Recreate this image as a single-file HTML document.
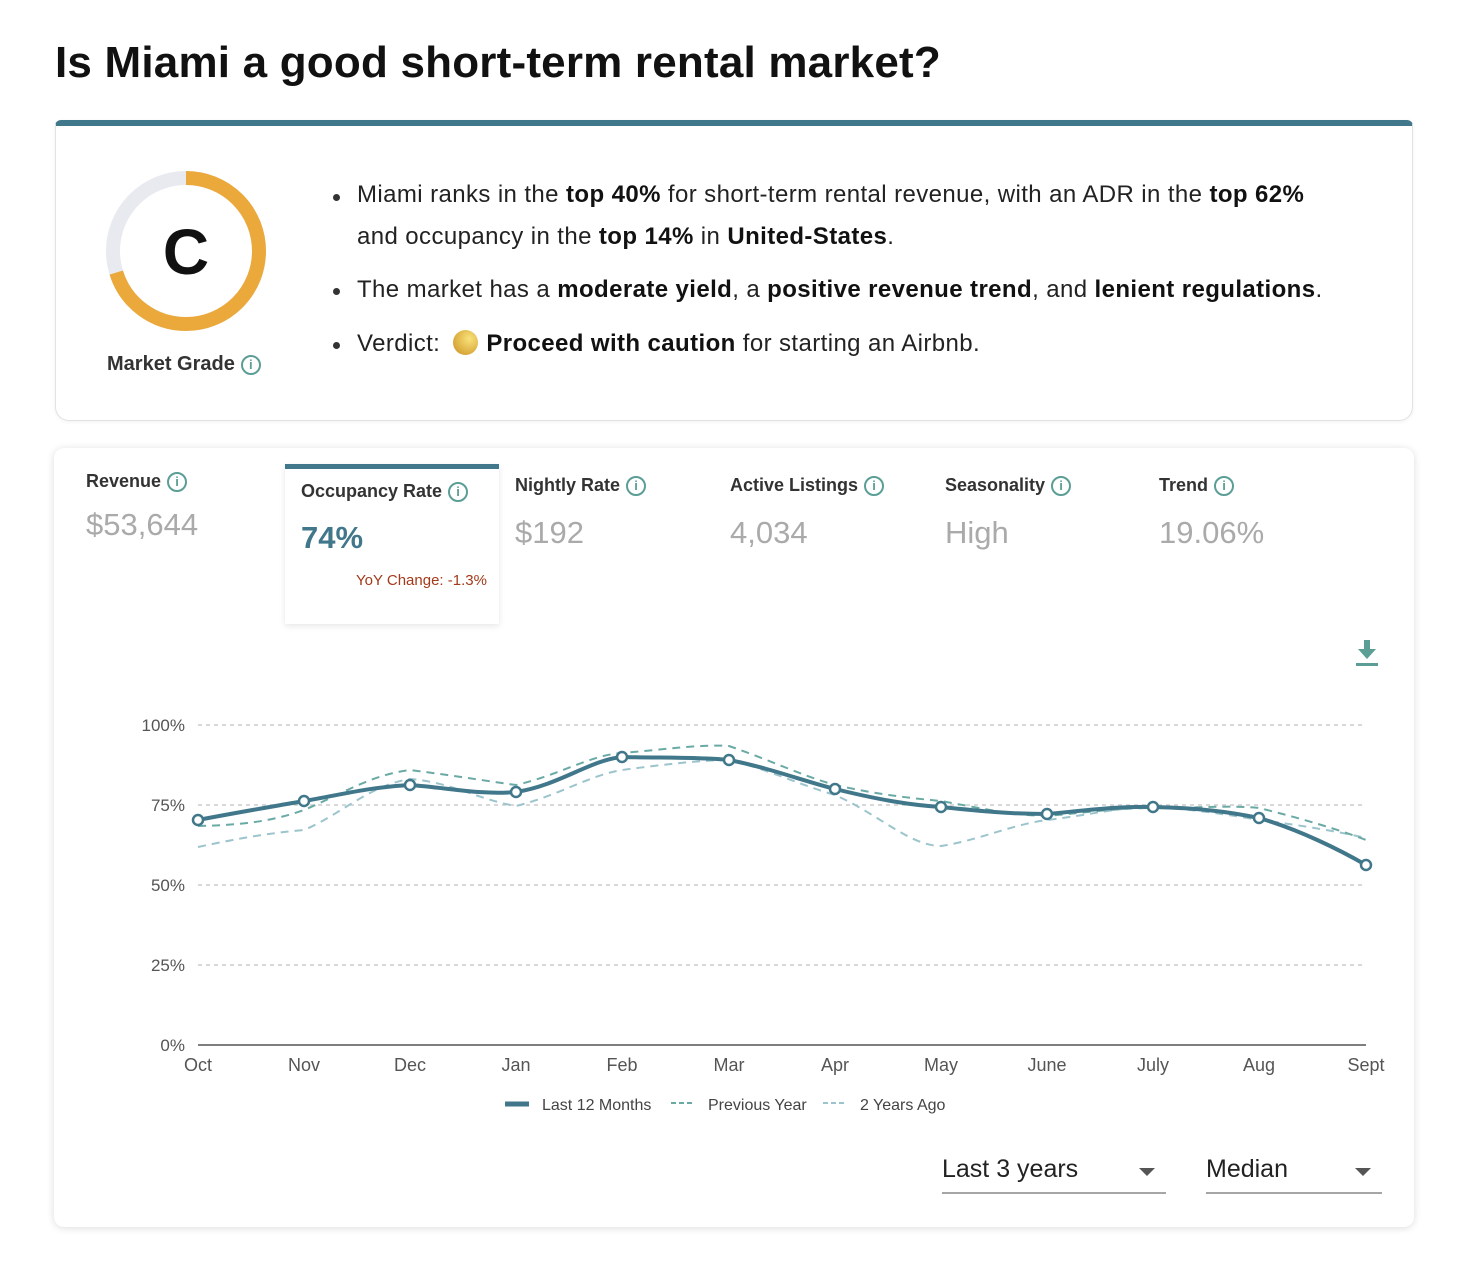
<!DOCTYPE html>
<html><head><meta charset="utf-8"><style>
*{margin:0;padding:0;box-sizing:border-box}
body{width:1460px;height:1282px;background:#fff;font-family:"Liberation Sans",Roboto,sans-serif;position:relative;overflow:hidden;color:#222}
.a{position:absolute;white-space:nowrap}
h1{position:absolute;left:55px;top:38px;font-size:44px;font-weight:700;color:#111;letter-spacing:0.2px}
.card1{position:absolute;left:55px;top:120px;width:1358px;height:301px;border:1px solid #e2e2e2;border-top:6px solid #41778a;border-radius:6px 6px 14px 14px;background:#fff;box-shadow:0 1px 4px rgba(0,0,0,.06)}
.card2{position:absolute;left:54px;top:448px;width:1360px;height:779px;border-radius:10px;background:#fff;box-shadow:0 1px 8px rgba(0,0,0,.14)}
.bl{font-size:24px;color:#222;letter-spacing:0.4px}
.bl b{font-weight:700;color:#111}
.dot{position:absolute;width:7px;height:7px;border-radius:50%;background:#333}
.lab{font-size:18px;font-weight:700;color:#333}
.val{font-size:31px;color:#aaa}
.info{display:inline-block;width:20px;height:20px;border:2px solid #5a9e96;border-radius:50%;color:#5a9e96;font-size:13px;text-align:center;line-height:16px;font-weight:700;vertical-align:middle;margin-left:6px}
</style></head><body>
<h1>Is Miami a good short-term rental market?</h1>
<div class="card1"></div>
<svg class="a" style="left:0;top:0" width="400" height="420">
<circle cx="186" cy="251" r="73" fill="none" stroke="#e8eaf0" stroke-width="14"/>
<circle cx="186" cy="251" r="73" fill="none" stroke="#eba93c" stroke-width="14" stroke-dasharray="322 500" transform="rotate(-90 186 251)"/>
<text x="186" y="274" text-anchor="middle" font-family="Liberation Sans" font-weight="700" font-size="64" fill="#111">C</text>
</svg>
<div class="a" style="left:107px;top:353px;font-size:20px;font-weight:700;color:#333">Market Grade<span class="info">i</span></div>
<div class="dot" style="left:333px;top:194px"></div>
<div class="dot" style="left:333px;top:288px"></div>
<div class="dot" style="left:333px;top:342px"></div>
<div class="a bl" style="left:357px;top:181px">Miami ranks in the <b>top 40%</b> for short-term rental revenue, with an ADR in the <b>top 62%</b></div>
<div class="a bl" style="left:357px;top:223px">and occupancy in the <b>top 14%</b> in <b>United-States</b>.</div>
<div class="a bl" style="left:357px;top:276px">The market has a <b>moderate yield</b>, a <b>positive revenue trend</b>, and <b>lenient regulations</b>.</div>
<div class="a bl" style="left:357px;top:330px">Verdict: <span style="display:inline-block;width:25px;height:25px;border-radius:50%;background:radial-gradient(circle at 65% 35%,#f8e27a,#d9a83a 70%,#c08a40);vertical-align:-4px;margin:0 8px 0 6px"></span><b>Proceed with caution</b> for starting an Airbnb.</div>

<div class="card2"></div>
<div class="a" style="left:285px;top:464px;width:214px;height:160px;background:#fff;border-top:5px solid #41778a;box-shadow:0 2px 6px rgba(0,0,0,.1)"></div>
<div class="a lab" style="left:86px;top:471px">Revenue<span class="info">i</span></div>
<div class="a val" style="left:86px;top:507px">$53,644</div>
<div class="a lab" style="left:301px;top:481px">Occupancy Rate<span class="info">i</span></div>
<div class="a" style="left:301px;top:520px;font-size:31px;font-weight:700;color:#41778a">74%</div>
<div class="a" style="left:356px;top:572px;font-size:15px;color:#a33a1a">YoY Change: -1.3%</div>
<div class="a lab" style="left:515px;top:475px">Nightly Rate<span class="info">i</span></div>
<div class="a val" style="left:515px;top:515px">$192</div>
<div class="a lab" style="left:730px;top:475px">Active Listings<span class="info">i</span></div>
<div class="a val" style="left:730px;top:515px">4,034</div>
<div class="a lab" style="left:945px;top:475px">Seasonality<span class="info">i</span></div>
<div class="a val" style="left:945px;top:515px">High</div>
<div class="a lab" style="left:1159px;top:475px">Trend<span class="info">i</span></div>
<div class="a val" style="left:1159px;top:515px">19.06%</div>

<svg class="a" style="left:0;top:0" width="1460" height="1282" font-family="Liberation Sans">
<g fill="#5a9e96"><rect x="1364" y="640" width="6" height="10"/><polygon points="1358,649 1376,649 1367,659"/><rect x="1356" y="663" width="22" height="3"/></g>
<g stroke="#ccc" stroke-width="1.5" stroke-dasharray="4 4">
<line x1="198" y1="725" x2="1366" y2="725"/><line x1="198" y1="805" x2="1366" y2="805"/><line x1="198" y1="885" x2="1366" y2="885"/><line x1="198" y1="965" x2="1366" y2="965"/></g>
<line x1="198" y1="1045" x2="1366" y2="1045" stroke="#555" stroke-width="1.5"/>
<g font-size="17" fill="#555" text-anchor="end"><text x="185" y="731">100%</text><text x="185" y="811">75%</text><text x="185" y="891">50%</text><text x="185" y="971">25%</text><text x="185" y="1051">0%</text></g>
<g font-size="18" fill="#555" text-anchor="middle"><text x="198" y="1071">Oct</text><text x="304" y="1071">Nov</text><text x="410" y="1071">Dec</text><text x="516" y="1071">Jan</text><text x="622" y="1071">Feb</text><text x="729" y="1071">Mar</text><text x="835" y="1071">Apr</text><text x="941" y="1071">May</text><text x="1047" y="1071">June</text><text x="1153" y="1071">July</text><text x="1259" y="1071">Aug</text><text x="1366" y="1071">Sept</text></g>
<path d="M198,847 C240,838 270,833 304,830 C340,815 370,785 410,779 C450,782 480,800 516,806 C560,795 590,775 622,770 C660,765 700,760 729,760 C770,770 800,785 835,795 C880,815 910,846 941,846 C980,840 1010,825 1047,820 C1090,815 1120,807 1153,807 C1200,810 1230,815 1259,820 C1300,825 1340,832 1366,838" fill="none" stroke="#9cc4cc" stroke-width="2" stroke-dasharray="8 6"/>
<path d="M198,826 C240,825 270,822 304,810 C340,795 370,775 410,770 C450,775 480,780 516,785 C560,775 590,755 622,753 C660,750 700,744 729,746 C770,760 800,775 835,785 C880,795 910,798 941,801 C980,808 1010,815 1047,816 C1090,812 1120,808 1153,808 C1200,808 1230,805 1259,808 C1300,818 1340,830 1366,840" fill="none" stroke="#6aaaa5" stroke-width="2" stroke-dasharray="8 6"/>
<path d="M198,820 C240,812 270,807 304,801 C340,795 370,787 410,785 C450,788 480,795 516,792 C560,785 590,760 622,757 C660,758 700,757 729,760 C770,768 800,780 835,789 C880,800 910,805 941,807 C980,811 1010,814 1047,814 C1090,810 1120,806 1153,807 C1200,808 1230,812 1259,818 C1300,830 1340,850 1366,865" fill="none" stroke="#41778a" stroke-width="4"/>
<g fill="#fff" stroke="#41778a" stroke-width="2.5">
<circle cx="198" cy="820" r="5"/><circle cx="304" cy="801" r="5"/><circle cx="410" cy="785" r="5"/><circle cx="516" cy="792" r="5"/><circle cx="622" cy="757" r="5"/><circle cx="729" cy="760" r="5"/><circle cx="835" cy="789" r="5"/><circle cx="941" cy="807" r="5"/><circle cx="1047" cy="814" r="5"/><circle cx="1153" cy="807" r="5"/><circle cx="1259" cy="818" r="5"/><circle cx="1366" cy="865" r="5"/></g>
<line x1="505" y1="1104" x2="529" y2="1104" stroke="#41778a" stroke-width="5"/>
<text x="542" y="1110" font-size="16" fill="#444">Last 12 Months</text>
<line x1="671" y1="1103" x2="695" y2="1103" stroke="#6aaaa5" stroke-width="2" stroke-dasharray="5 3"/>
<text x="708" y="1110" font-size="16" fill="#444">Previous Year</text>
<line x1="823" y1="1103" x2="847" y2="1103" stroke="#9cc4cc" stroke-width="2" stroke-dasharray="5 3"/>
<text x="860" y="1110" font-size="16" fill="#444">2 Years Ago</text>
<text x="942" y="1177" font-size="25" fill="#222">Last 3 years</text>
<polygon points="1139,1168 1155,1168 1147,1176" fill="#555"/>
<line x1="942" y1="1193" x2="1166" y2="1193" stroke="#888" stroke-width="1.5"/>
<text x="1206" y="1177" font-size="25" fill="#222">Median</text>
<polygon points="1355,1168 1371,1168 1363,1176" fill="#555"/>
<line x1="1206" y1="1193" x2="1382" y2="1193" stroke="#888" stroke-width="1.5"/>
</svg>
</body></html>
